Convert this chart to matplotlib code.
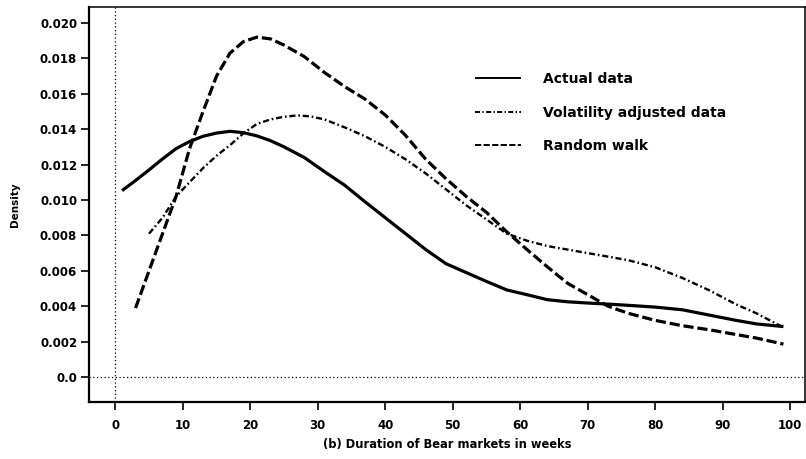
import matplotlib
matplotlib.use("Agg")
import matplotlib.pyplot as plt
from matplotlib.ticker import FixedLocator, FixedFormatter

plt.rcParams['font.family'] = ['DejaVu Sans']
plt.rcParams['font.weight'] = 'bold'

# Kernel density estimates of bear-market durations (weeks)
actual_x = [1, 3, 5, 7, 9, 11, 13, 15, 17, 19, 21, 23, 25, 28, 31, 34, 37, 40,
            43, 46, 49, 52, 55, 58, 61, 64, 67, 70, 73, 76, 80, 84, 88, 92, 95, 99]
actual_y = [0.01053, 0.0111, 0.0117, 0.01232, 0.0129, 0.0133, 0.0136, 0.01378,
            0.01388, 0.0138, 0.01362, 0.01335, 0.0130, 0.0124, 0.0116, 0.01083,
            0.0099, 0.0090, 0.0081, 0.0072, 0.0064, 0.0059, 0.0054, 0.00492,
            0.00465, 0.00437, 0.00425, 0.00418, 0.00412, 0.00405, 0.00395,
            0.0038, 0.0035, 0.0032, 0.0030, 0.00285]

vol_x = [5, 7, 9, 11, 13, 15, 17, 19, 21, 23, 25, 27, 29, 31, 34, 37, 40, 43,
         46, 49, 52, 55, 58, 61, 64, 67, 70, 73, 76, 80, 84, 88, 92, 95, 99]
vol_y = [0.0081, 0.0090, 0.0102, 0.0110, 0.0118, 0.0125, 0.0131, 0.01377,
         0.0143, 0.01455, 0.0147, 0.01478, 0.01472, 0.01455, 0.0141, 0.0136,
         0.0130, 0.0123, 0.0115, 0.0106, 0.0097, 0.0089, 0.0081, 0.0077,
         0.0074, 0.0072, 0.0070, 0.0068, 0.0066, 0.0062, 0.0056, 0.0049,
         0.0041, 0.0036, 0.0028]

rw_x = [3, 5, 7, 9, 11, 13, 15, 17, 19, 21, 23, 25, 28, 31, 34, 37, 40, 43,
        46, 49, 52, 55, 58, 61, 64, 67, 70, 73, 76, 80, 84, 88, 92, 95, 99]
rw_y = [0.0039, 0.0060, 0.0081, 0.0102, 0.0129, 0.0150, 0.0170, 0.0183,
        0.01895, 0.0192, 0.0191, 0.01875, 0.0181, 0.0172, 0.0164, 0.0157,
        0.0148, 0.01365, 0.0123, 0.0112, 0.0102, 0.0093, 0.0082, 0.0072,
        0.00623, 0.0053, 0.00465, 0.0040, 0.0036, 0.0032, 0.0029, 0.00267,
        0.0024, 0.0022, 0.00186]

series_labels = ["Actual data", "Volatility adjusted data", "Random walk"]

x_ticks = [0, 10, 20, 30, 40, 50, 60, 70, 80, 90, 100]
y_ticks = [0.0, 0.002, 0.004, 0.006, 0.008, 0.010, 0.012, 0.014, 0.016, 0.018, 0.020]
y_tick_labels = ["0.0", "0.002", "0.004", "0.006", "0.008", "0.010",
                 "0.012", "0.014", "0.016", "0.018", "0.020"]

fig = plt.figure(figsize=(8.06, 4.59), dpi=100)
ax = fig.add_axes([0.1104, 0.1242, 0.8884, 0.8605])

# reference lines at zero
ax.axvline(0, color='black', lw=0.9, ls=(0, (1, 2)))
ax.axhline(0, color='black', lw=0.9, ls=(0, (1, 2)))

ax.plot(actual_x, actual_y, color='black', lw=2.3, solid_capstyle='butt',
        solid_joinstyle='round', label=series_labels[0])
ax.plot(vol_x, vol_y, color='black', lw=1.7,
        dashes=(2.6, 1.2, 0.7, 1.2), label=series_labels[1])
ax.plot(rw_x, rw_y, color='black', lw=2.3, dashes=(3.2, 1.2),
        label=series_labels[2])

ax.set_xlim(-3.9, 102.2)
ax.set_ylim(-0.00141, 0.0209)

ax.xaxis.set_major_locator(FixedLocator(x_ticks))
ax.yaxis.set_major_locator(FixedLocator(y_ticks))
ax.yaxis.set_major_formatter(FixedFormatter(y_tick_labels))

ax.tick_params(axis='both', direction='out', length=5.5, width=1.2,
               labelsize=8.5, colors='black')
ax.tick_params(axis='x', pad=7)
ax.tick_params(axis='y', pad=3)

for side in ['left', 'bottom']:
    ax.spines[side].set_linewidth(1.6)
for side in ['top', 'right']:
    ax.spines[side].set_linewidth(1.1)

ax.set_xlabel("(b) Duration of Bear markets in weeks", fontsize=8.3,
              fontweight='bold', labelpad=4)
ax.set_ylabel("Density", fontsize=7.5, fontweight='bold')
ax.yaxis.set_label_coords(-0.097, 0.5)

leg = ax.legend(loc='upper left', bbox_to_anchor=(0.531, 0.849), frameon=False,
                fontsize=10, handlelength=3.3, handletextpad=1.6,
                labelspacing=1.39, borderaxespad=0)
for t in leg.get_texts():
    t.set_fontweight('bold')
for h in leg.get_lines():
    h.set_linewidth(1.4)

fig.savefig("out.png", dpi=100)
